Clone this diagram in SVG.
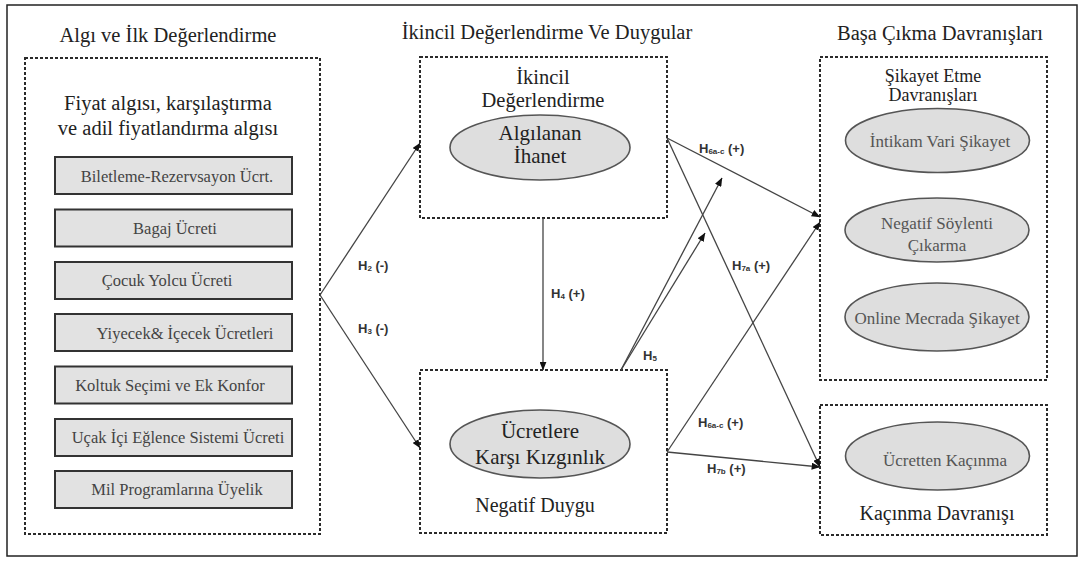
<svg xmlns="http://www.w3.org/2000/svg" width="1084" height="566" viewBox="0 0 1084 566" font-family="Liberation Serif, Times New Roman, DejaVu Serif, serif">
<defs>
<marker id="ah" viewBox="0 0 10 8" refX="9.5" refY="4" markerWidth="9" markerHeight="7" markerUnits="userSpaceOnUse" orient="auto">
<path d="M0,0 L10,4 L0,8 Z" fill="#111"/>
</marker>
<style>
.frame{fill:#fff;stroke:#222;stroke-width:1.5}
.dbox{fill:#fff;stroke:#2a2a2a;stroke-width:2;stroke-dasharray:3 2}
.gr{fill:#e2e2e2;stroke:#333;stroke-width:2}
.el{fill:#dedede;stroke:#555;stroke-width:1.6}
.t{fill:#222;text-anchor:middle;dominant-baseline:central}
.h{font-size:20.5px}
.e{font-size:21px}
.m{font-size:20px}
.k{font-size:18px}
.s{font-size:16.5px;fill:#444}
.r{font-size:17px;fill:#555}
.lb{font-family:'Liberation Sans',Arial,sans-serif;font-weight:bold;font-size:13px;fill:#333;dominant-baseline:central}
.sub{font-size:8px}
.c{fill:none;stroke:#444;stroke-width:1.3;marker-end:url(#ah)}
</style>
</defs>
<rect x="0" y="0" width="1084" height="566" fill="#fff"/>
<rect class="frame" x="7" y="5" width="1070" height="551"/>

<g id="titles">
<text class="t h" x="168" y="35">Algı ve İlk Değerlendirme</text>
<text class="t h" x="547" y="32">İkincil Değerlendirme Ve Duygular</text>
<text class="t h" x="940" y="33">Başa Çıkma Davranışları</text>
</g>

<g id="algi">
<rect class="dbox" x="25" y="58" width="295" height="476"/>
<text class="t h" x="168" y="103">Fiyat algısı, karşılaştırma</text>
<text class="t h" x="168" y="128">ve adil fiyatlandırma algısı</text>
<rect class="gr" x="55" y="157" width="237" height="37"/>
<text class="t s" x="177" y="176">Biletleme-Rezervsayon Ücrt.</text>
<rect class="gr" x="55" y="209.5" width="237" height="37"/>
<text class="t s" x="175" y="228">Bagaj Ücreti</text>
<rect class="gr" x="55" y="262" width="237" height="37"/>
<text class="t s" x="167" y="280.5">Çocuk Yolcu Ücreti</text>
<rect class="gr" x="55" y="314" width="237" height="37"/>
<text class="t s" x="185" y="333">Yiyecek&amp; İçecek Ücretleri</text>
<rect class="gr" x="55" y="366.5" width="237" height="37"/>
<text class="t s" x="170" y="385">Koltuk Seçimi ve Ek Konfor</text>
<rect class="gr" x="55" y="419" width="237" height="37"/>
<text class="t s" x="178" y="437.5">Uçak İçi Eğlence Sistemi Ücreti</text>
<rect class="gr" x="55" y="471" width="237" height="37"/>
<text class="t s" x="177" y="489.5">Mil Programlarına Üyelik</text>
</g>

<g id="ikincil">
<rect class="dbox" x="420" y="57" width="247" height="161"/>
<text class="t h" x="543" y="77">İkincil</text>
<text class="t h" x="543" y="100">Değerlendirme</text>
<ellipse class="el" cx="540" cy="147.5" rx="90" ry="32.5"/>
<text class="t e" x="540" y="133">Algılanan</text>
<text class="t e" x="540" y="156">İhanet</text>
</g>

<g id="negatif">
<rect class="dbox" x="420" y="370" width="247" height="163"/>
<ellipse class="el" cx="540" cy="444" rx="90" ry="34"/>
<text class="t e" x="540" y="431">Ücretlere</text>
<text class="t e" x="540" y="457">Karşı Kızgınlık</text>
<text class="t m" x="535" y="505">Negatif Duygu</text>
</g>

<g id="sikayet">
<rect class="dbox" x="820" y="57" width="227" height="323"/>
<text class="t k" x="933" y="76">Şikayet Etme</text>
<text class="t k" x="933" y="95">Davranışları</text>
<ellipse class="el" cx="937.5" cy="140.5" rx="92" ry="32"/>
<text class="t r" x="940" y="141">İntikam Vari Şikayet</text>
<ellipse class="el" cx="937" cy="230" rx="92" ry="32"/>
<text class="t r" x="937" y="223">Negatif Söylenti</text>
<text class="t r" x="937" y="245">Çıkarma</text>
<ellipse class="el" cx="937" cy="317" rx="92" ry="34"/>
<text class="t r" x="937" y="318">Online Mecrada Şikayet</text>
</g>

<g id="kacinma">
<rect class="dbox" x="820" y="405" width="227" height="130"/>
<ellipse class="el" cx="937.5" cy="456" rx="92" ry="34"/>
<text class="t r" x="945" y="460">Ücretten Kaçınma</text>
<text class="t m" x="937" y="513">Kaçınma Davranışı</text>
</g>

<g id="connectors">
<path class="c" d="M320,295 L420,143"/>
<path class="c" d="M320,295 L420,448"/>
<path class="c" d="M543,218 L543,370"/>
<path class="c" d="M667,138 L820,217"/>
<path class="c" d="M667,138 L820,467"/>
<path class="c" d="M667,452 L820,222"/>
<path class="c" d="M667,452 L820,467"/>
<path class="c" d="M621,370 L722,178"/>
<path class="c" d="M621,370 L705,233"/>
</g>

<g id="labels">
<text class="lb" x="358" y="265">H<tspan class="sub" dy="3">2</tspan><tspan dy="-3"> (-)</tspan></text>
<text class="lb" x="358" y="328">H<tspan class="sub" dy="3">3</tspan><tspan dy="-3"> (-)</tspan></text>
<text class="lb" x="551" y="293">H<tspan class="sub" dy="3">4</tspan><tspan dy="-3"> (+)</tspan></text>
<text class="lb" x="643" y="355">H<tspan class="sub" dy="3">5</tspan></text>
<text class="lb" x="699" y="148">H<tspan class="sub" dy="3">6a-c</tspan><tspan dy="-3"> (+)</tspan></text>
<text class="lb" x="732" y="265">H<tspan class="sub" dy="3">7a</tspan><tspan dy="-3"> (+)</tspan></text>
<text class="lb" x="698" y="422">H<tspan class="sub" dy="3">6a-c</tspan><tspan dy="-3"> (+)</tspan></text>
<text class="lb" x="707" y="468">H<tspan class="sub" dy="3">7b</tspan><tspan dy="-3"> (+)</tspan></text>
</g>
</svg>
